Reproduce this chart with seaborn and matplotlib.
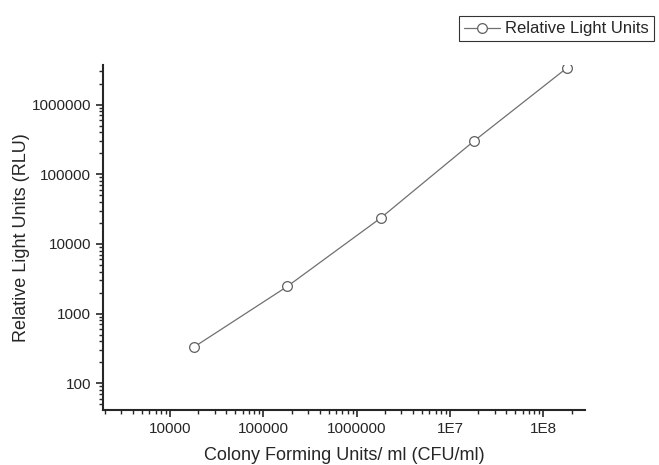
import matplotlib
matplotlib.use("Agg")
import matplotlib.pyplot as plt
import matplotlib.ticker as mticker
import seaborn as sns
import pandas as pd

# values
cfu = [1.8e4, 1.8e5, 1.8e6, 1.8e7, 1.8e8]
rlu = [330, 2450, 23500, 300000, 3.4e6]
x_ticks = [1e4, 1e5, 1e6, 1e7, 1e8]
x_labels = ["10000", "100000", "1000000", "1E7", "1E8"]
y_ticks = [1e2, 1e3, 1e4, 1e5, 1e6]
y_labels = ["100", "1000", "10000", "100000", "1000000"]

sns.set_style("ticks")
plt.rcParams['font.family'] = ['Liberation Sans', 'DejaVu Sans']

df = pd.DataFrame({"CFU": cfu, "RLU": rlu})

fig = plt.figure(figsize=(6.59, 4.65), dpi=100)
ax = fig.add_axes([0.156, 0.118, 0.732, 0.742])
sns.lineplot(data=df, x="CFU", y="RLU", ax=ax, color="#707070", linewidth=0.9,
             marker="o", markersize=7, markerfacecolor="white",
             markeredgecolor="#606060", markeredgewidth=0.9,
             label="Relative Light Units")
ax.set_xscale("log")
ax.set_yscale("log")
ax.set_xlim(1900, 2.8e8)
ax.set_ylim(41, 3.7e6)
ax.set_xticks(x_ticks)
ax.set_xticklabels(x_labels)
ax.set_yticks(y_ticks)
ax.set_yticklabels(y_labels)
ax.xaxis.set_minor_locator(mticker.LogLocator(subs=range(2, 10), numticks=20))
ax.yaxis.set_minor_locator(mticker.LogLocator(subs=range(2, 10), numticks=20))
ax.xaxis.set_minor_formatter(mticker.NullFormatter())
ax.yaxis.set_minor_formatter(mticker.NullFormatter())
ax.tick_params(which="major", length=5, width=1.2, labelsize=11)
ax.tick_params(which="minor", length=3, width=1)
for s in ["left", "bottom"]:
    ax.spines[s].set_linewidth(1.5)
sns.despine(ax=ax)
ax.set_xlabel("Colony Forming Units/ ml (CFU/ml)", fontsize=13, labelpad=8)
ax.set_ylabel("Relative Light Units (RLU)", fontsize=13, labelpad=1)
leg = ax.legend(loc="center right", bbox_to_anchor=(1.16, 1.105), fontsize=12,
                frameon=True, fancybox=False, edgecolor="black",
                handlelength=2.2, borderpad=0.3, handletextpad=0.3)
leg.get_frame().set_linewidth(0.8)
fig.savefig("out.png", dpi=100)
